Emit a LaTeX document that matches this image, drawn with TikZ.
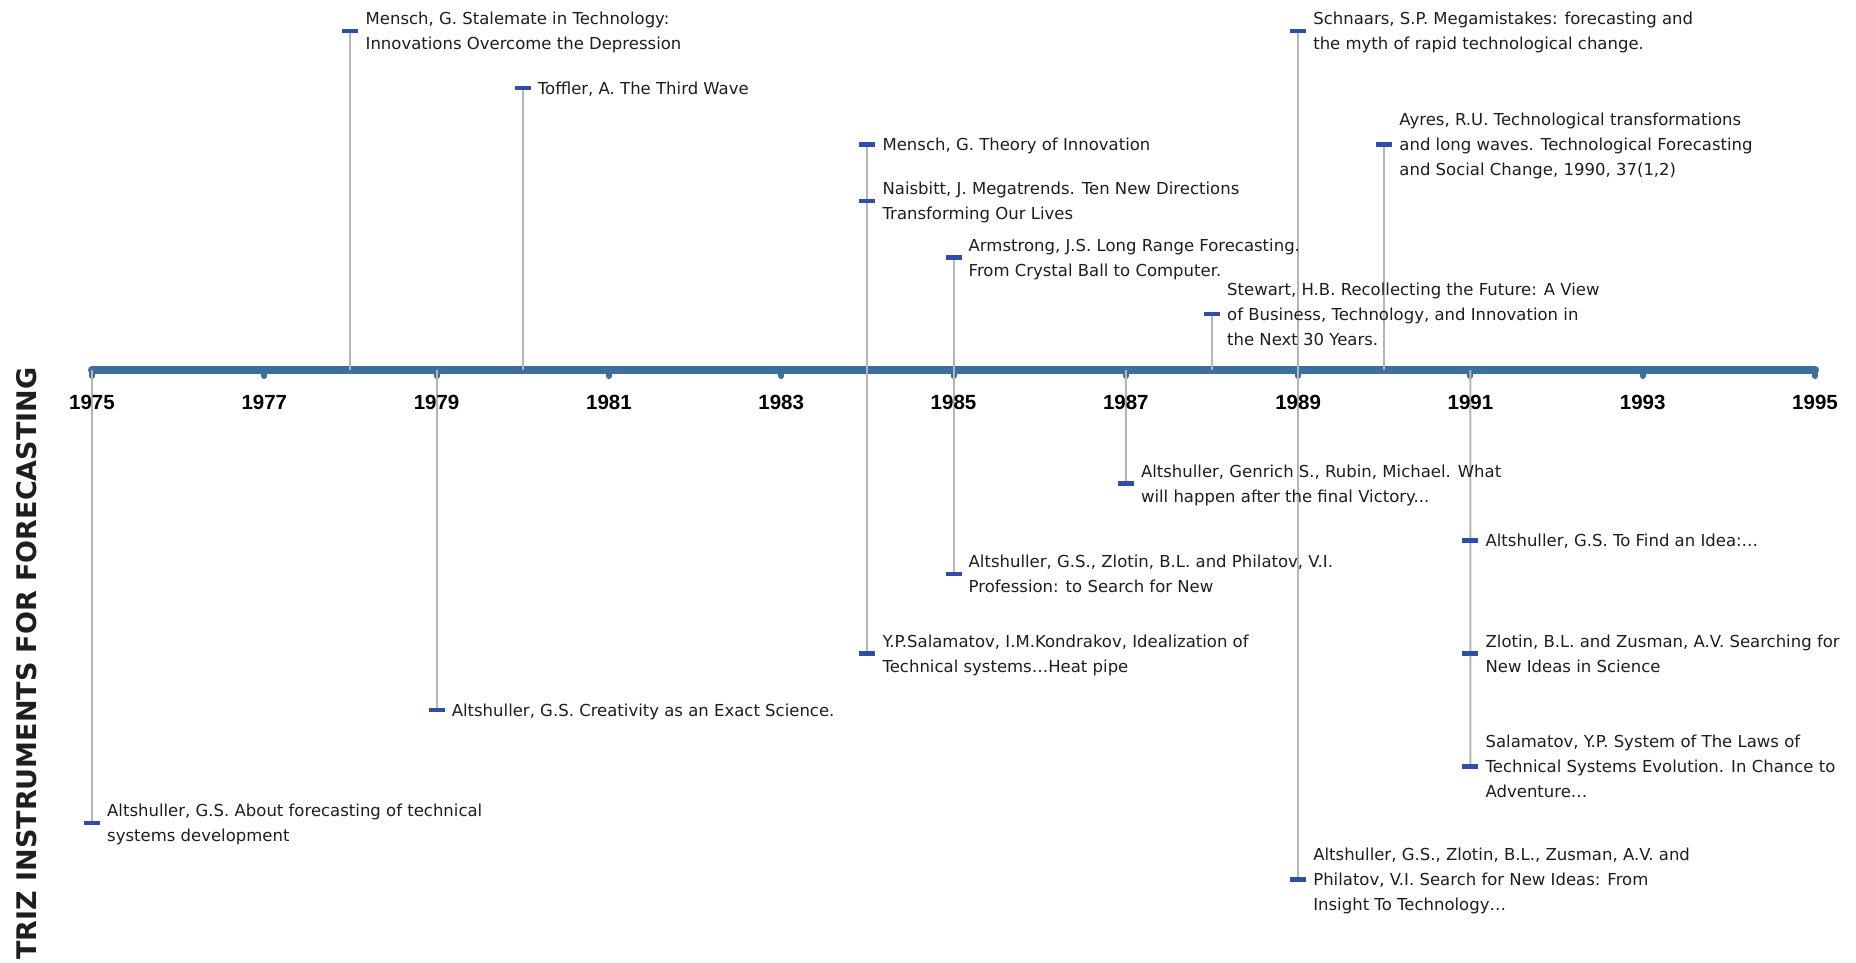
\documentclass[tikz,border=0pt]{standalone}
\usepackage{fontspec}
\setmainfont{DejaVu Sans}
\newfontfamily\yearfont{Liberation Sans}
\usetikzlibrary{backgrounds}

\definecolor{axisblue}{HTML}{3C6E9F}
\definecolor{markblue}{HTML}{2E4FA5}
\definecolor{stemgray}{HTML}{B5B5B5}
\definecolor{inkdark}{HTML}{1E1E1E}

% first-line strut: the top of a text node lies 16pt above its first baseline
\newcommand\lnstrut{\rule[-4pt]{0pt}{20pt}}

\tikzset{
  axisline/.style={draw=axisblue, line width=8pt, line cap=round},
  yeartick/.style={draw=axisblue, line width=6pt, line cap=round},
  stem/.style={draw=stemgray, line width=2pt},
  evmark/.style={rectangle, fill=markblue, draw=none, inner sep=0pt,
                 minimum width=16pt, minimum height=4.5pt},
  evtext/.style={anchor=north west, inner sep=0pt, align=left, text=inkdark,
                 font=\fontsize{16.5}{25}\selectfont},
  yearlabel/.style={inner sep=0pt, text=black,
                    font=\yearfont\bfseries\fontsize{20.5}{24}\selectfont},
  titletext/.style={inner sep=0pt, rotate=90, text=inkdark,
                    font=\bfseries\fontsize{27}{30}\selectfont},
}

% marker bar plus its reference text: name, x, y, number of lines, text
% (the middle of the text block is centred on the marker)
\newcommand\event[5]{%
  \node[evmark] (m#1) at (#2,#3) {};
  \node[evtext] (t#1) at (#2+15,{#3-(#4-1)*12.5-10}) {\lnstrut#5};
}

\begin{document}
\begin{tikzpicture}[x=1pt,y=-1pt]
\useasboundingbox (0,0) rectangle (1856,962);

% years along the axis
\foreach \i in {0,...,10}{
  \pgfmathtruncatemacro\yr{1975+2*\i}
  \coordinate (ax\yr) at ({92+172.3*\i},370);
  \node[yearlabel] (yl\yr) at ({92+172.3*\i},402) {\yr};
}

\node[titletext] (title) at (26.5,663.5) {TRIZ INSTRUMENTS FOR FORECASTING};

% references above the axis
\event{A1}{350.45}{31}{2}{Mensch, G. Stalemate in Technology:\\Innovations Overcome the Depression}
\event{A2}{522.75}{88}{1}{Toffler, A. The Third Wave}
\event{A3}{867.35}{144.5}{1}{Mensch, G. Theory of Innovation}
\event{A4}{867.35}{201}{2}{Naisbitt, J. Megatrends. Ten New Directions\\Transforming Our Lives}
\event{A5}{953.5}{257.5}{2}{Armstrong, J.S. Long Range Forecasting.\\From Crystal Ball to Computer.}
\event{A6}{1211.95}{314}{3}{Stewart, H.B. Recollecting the Future: A View\\of Business, Technology, and Innovation in\\the Next 30 Years.}
\event{A7}{1298.1}{31}{2}{Schnaars, S.P. Megamistakes: forecasting and\\the myth of rapid technological change.}
\event{A8}{1384.25}{144.5}{3}{Ayres, R.U. Technological transformations\\and long waves. Technological Forecasting\\and Social Change, 1990, 37(1,2)}

% references below the axis
\event{B1}{92}{823}{2}{Altshuller, G.S. About forecasting of technical\\systems development}
\event{B2}{436.6}{710}{1}{Altshuller, G.S. Creativity as an Exact Science.}
\event{B3}{867.35}{653.5}{2}{Y.P.Salamatov, I.M.Kondrakov, Idealization of\\Technical systems…Heat pipe}
\event{B4}{953.5}{574}{2}{Altshuller, G.S., Zlotin, B.L. and Philatov, V.I.\\Profession: to Search for New}
\event{B5}{1125.8}{483.5}{2}{Altshuller, Genrich S., Rubin, Michael. What\\will happen after the final Victory...}
\event{B6}{1298.1}{879.5}{3}{Altshuller, G.S., Zlotin, B.L., Zusman, A.V. and\\Philatov, V.I. Search for New Ideas: From\\Insight To Technology…}
\event{B7}{1470.4}{540.5}{1}{Altshuller, G.S. To Find an Idea:…}
\event{B8}{1470.4}{653.5}{2}{Zlotin, B.L. and Zusman, A.V. Searching for\\New Ideas in Science}
\event{B9}{1470.4}{766.5}{3}{Salamatov, Y.P. System of The Laws of\\Technical Systems Evolution. In Chance to\\Adventure…}

\begin{pgfonlayer}{background}
  \fill[white] (0,0) rectangle (1856,962);
  % main time axis with its year ticks
  \draw[axisline] (ax1975) -- (ax1995);
  \foreach \yr in {1975,1977,...,1995}{
    \draw[yeartick] (ax\yr) -- ++(0,6);
  }
  % stems joining each marker to the axis
  \draw[stem] (mA1.center) -- (mA1.center |- ax1975);
  \draw[stem] (mA2.center) -- (mA2.center |- ax1975);
  \draw[stem] (mA3.center) -- (mB3.center);
  \draw[stem] (mA5.center) -- (mB4.center);
  \draw[stem] (mA6.center) -- (mA6.center |- ax1975);
  \draw[stem] (mA7.center) -- (mB6.center);
  \draw[stem] (mA8.center) -- (mA8.center |- ax1975);
  \draw[stem] (ax1975) -- (mB1.center);
  \draw[stem] (ax1979) -- (mB2.center);
  \draw[stem] (ax1987) -- (mB5.center);
  \draw[stem] (ax1991) -- (mB9.center);
\end{pgfonlayer}
\end{tikzpicture}
\end{document}
